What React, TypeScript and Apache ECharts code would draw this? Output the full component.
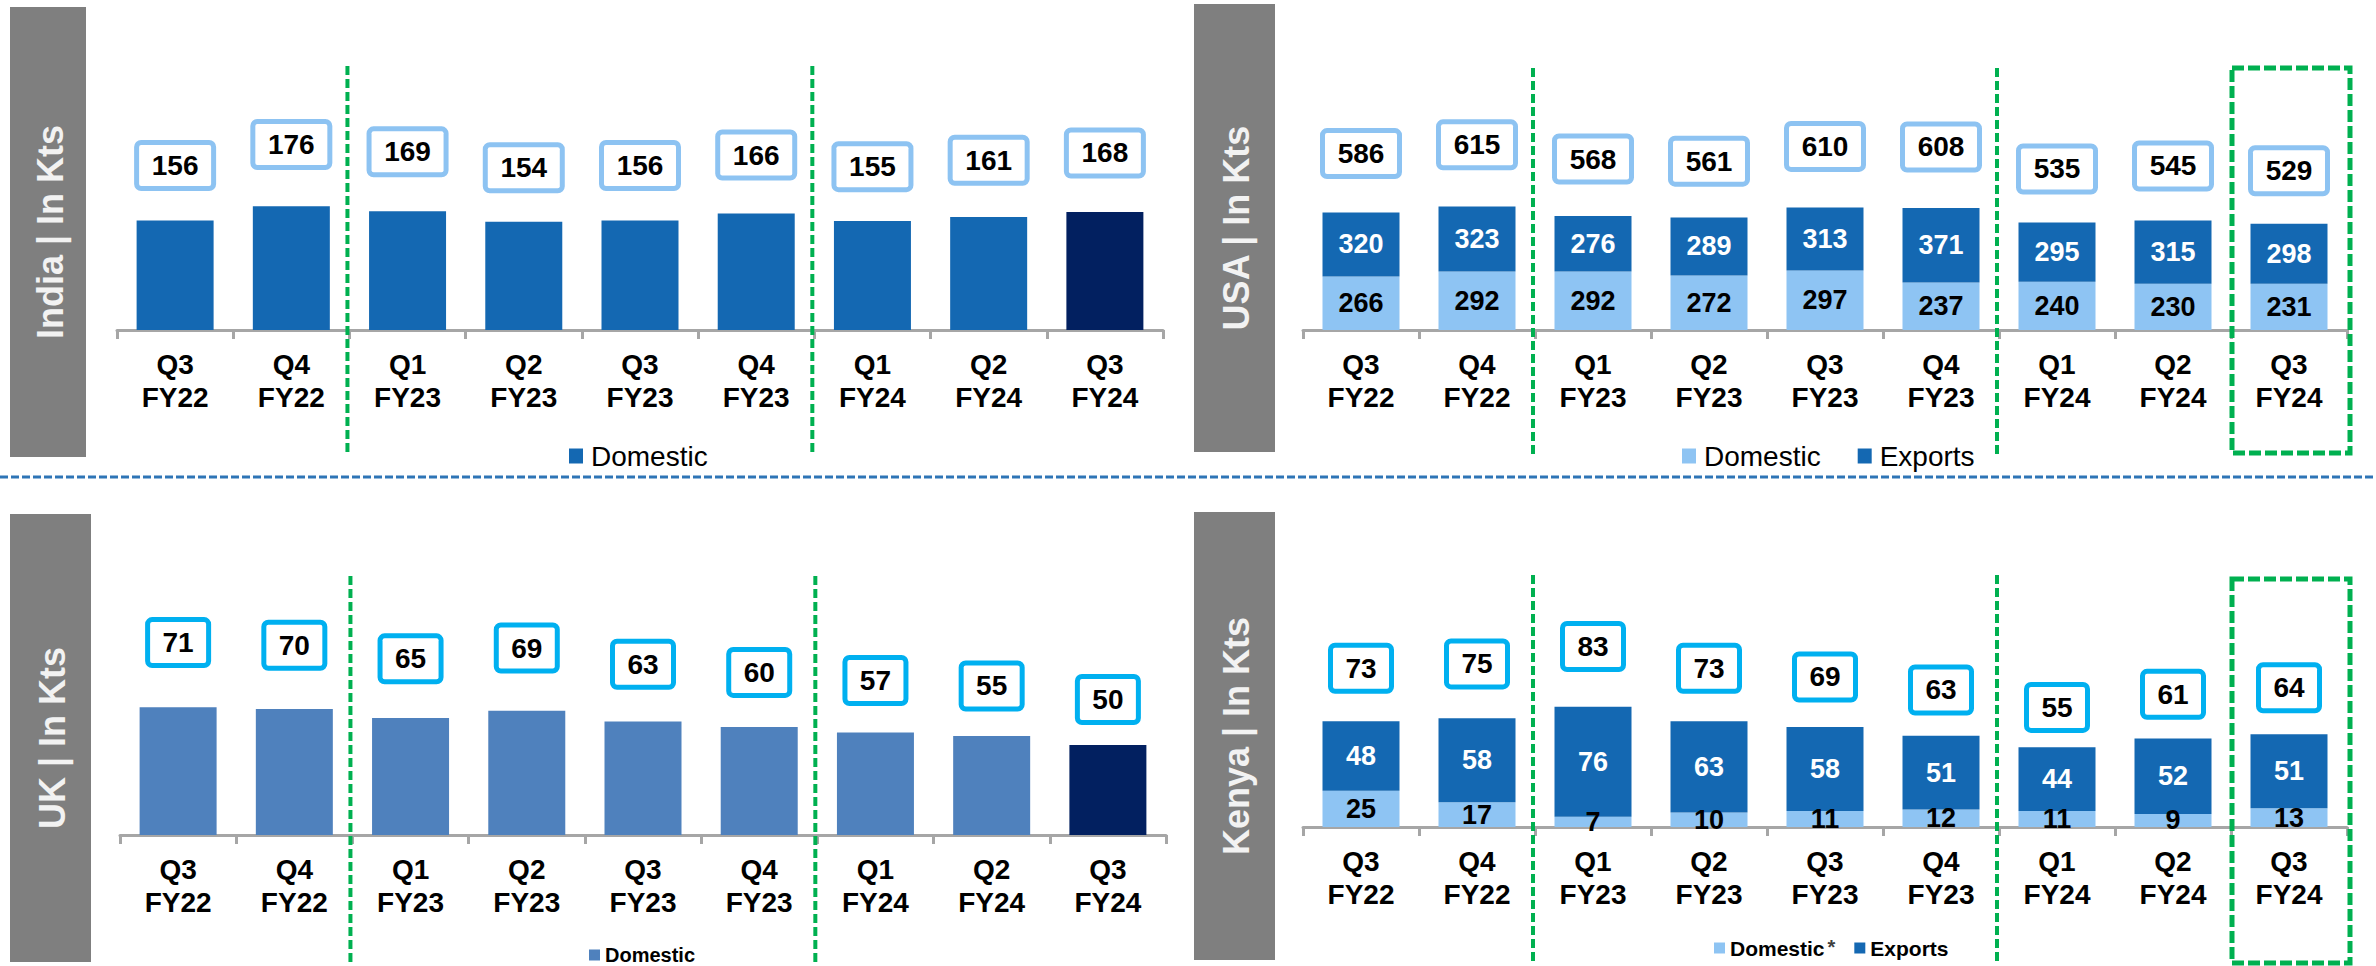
import React, { useEffect, useRef } from "react";
import * as echarts from "echarts";

// ---------- data ----------
const categories = ["Q3\nFY22", "Q4\nFY22", "Q1\nFY23", "Q2\nFY23", "Q3\nFY23", "Q4\nFY23", "Q1\nFY24", "Q2\nFY24", "Q3\nFY24"];
const panelTitles = ["India | In Kts", "USA | In Kts", "UK | In Kts", "Kenya | In Kts"];

const indiaDomestic = [156, 176, 169, 154, 156, 166, 155, 161, 168];

const usaDomestic = [266, 292, 292, 272, 297, 237, 240, 230, 231];
const usaExports = [320, 323, 276, 289, 313, 371, 295, 315, 298];
const usaTotal = [586, 615, 568, 561, 610, 608, 535, 545, 529];

const ukDomestic = [71, 70, 65, 69, 63, 60, 57, 55, 50];

const kenyaDomestic = [25, 17, 7, 10, 11, 12, 11, 9, 13];
const kenyaExports = [48, 58, 76, 63, 58, 51, 44, 52, 51];
const kenyaTotal = [73, 75, 83, 73, 69, 63, 55, 61, 64];

// ---------- styles ----------
const FONT = '"Liberation Sans", Arial, Helvetica, sans-serif';
const C_DARK = "#1468B2";
const C_LIGHT = "#8EC4F3";
const C_UK = "#4F81BD";
const C_NAVY = "#022060";
const C_GREEN = "#00B050";
const C_BOX_LIGHT = "#8DC3F2";
const C_BOX_CYAN = "#00B0F0";
const C_AXIS = "#A6A6A6";

const grids = [
  { left: 117, top: 49, width: 1046, height: 281 },
  { left: 1303, top: 49, width: 1044, height: 281 },
  { left: 120, top: 554, width: 1046, height: 281 },
  { left: 1303, top: 546, width: 1044, height: 281 },
];
const barMax = [400, 1400, 156.1, 193.8];
const labelMax = [266.6, 933.5, 103.7, 129.2];

const highlightLast = (vals: number[], color: string) =>
  vals.map((v, i) => (i === vals.length - 1 ? { value: v, itemStyle: { color } } : v));

const boxLabel = (borderColor: string, w: number) => ({
  show: true,
  position: "inside",
  formatter: (p: any) => String(p.value),
  backgroundColor: "#fff",
  borderColor,
  borderWidth: 5,
  borderRadius: 2,
  width: w,
  height: 41,
  lineHeight: 41,
  align: "center",
  verticalAlign: "middle",
  fontSize: 28,
  fontWeight: "bold",
  color: "#000",
  opacity: 1,
  textBorderWidth: 0,
  textBorderColor: "transparent",
  textShadowBlur: 0,
  fontFamily: FONT,
});

const labelSeries = (idx: number, data: number[], borderColor: string, w: number) => ({
  type: "scatter",
  name: "total" + idx,
  xAxisIndex: idx,
  yAxisIndex: idx * 2 + 1,
  data,
  symbolSize: 1,
  itemStyle: { color: "rgba(0,0,0,0)", opacity: 1 },
  label: boxLabel(borderColor, w),
  emphasis: { disabled: true },
  z: 10,
  silent: true,
});

const innerLabel = (color: string) => ({
  show: true,
  position: "inside",
  color,
  fontSize: 27,
  fontWeight: "bold",
  textBorderWidth: 0,
  textBorderColor: "transparent",
  fontFamily: FONT,
});

function buildOption() {
  const xAxis = grids.map((_, i) => ({
    type: "category",
    gridIndex: i,
    data: categories,
    boundaryGap: true,
    axisLine: { show: true, lineStyle: { color: C_AXIS, width: 3 } },
    axisTick: { show: true, interval: 0, length: 9, lineStyle: { color: C_AXIS, width: 3 } },
    axisLabel: {
      interval: 0,
      margin: 18,
      fontSize: 28,
      fontWeight: "bold",
      lineHeight: 33,
      color: "#000",
      fontFamily: FONT,
    },
  }));
  const yAxis: any[] = [];
  grids.forEach((_, i) => {
    yAxis.push({ type: "value", gridIndex: i, min: 0, max: barMax[i], show: false, splitLine: { show: false } });
    yAxis.push({ type: "value", gridIndex: i, min: 0, max: labelMax[i], show: false, splitLine: { show: false } });
  });

  const series: any[] = [
    // India
    {
      type: "bar",
      name: "India Domestic",
      xAxisIndex: 0,
      yAxisIndex: 0,
      barWidth: 77,
      data: highlightLast(indiaDomestic, C_NAVY),
      itemStyle: { color: C_DARK },
    },
    labelSeries(0, indiaDomestic, C_BOX_LIGHT, 72),
    // USA
    {
      type: "bar",
      name: "USA Domestic",
      xAxisIndex: 1,
      yAxisIndex: 2,
      stack: "usa",
      barWidth: 77,
      data: usaDomestic,
      itemStyle: { color: C_LIGHT },
      label: innerLabel("#000"),
    },
    {
      type: "bar",
      name: "USA Exports",
      xAxisIndex: 1,
      yAxisIndex: 2,
      stack: "usa",
      barWidth: 77,
      data: usaExports,
      itemStyle: { color: C_DARK },
      label: innerLabel("#fff"),
    },
    labelSeries(1, usaTotal, C_BOX_LIGHT, 72),
    // UK
    {
      type: "bar",
      name: "UK Domestic",
      xAxisIndex: 2,
      yAxisIndex: 4,
      barWidth: 77,
      data: highlightLast(ukDomestic, C_NAVY),
      itemStyle: { color: C_UK },
    },
    labelSeries(2, ukDomestic, C_BOX_CYAN, 56),
    // Kenya
    {
      type: "bar",
      name: "Kenya Domestic",
      xAxisIndex: 3,
      yAxisIndex: 6,
      stack: "kenya",
      barWidth: 77,
      data: kenyaDomestic,
      itemStyle: { color: C_LIGHT },
      label: innerLabel("#000"),
    },
    {
      type: "bar",
      name: "Kenya Exports",
      xAxisIndex: 3,
      yAxisIndex: 6,
      stack: "kenya",
      barWidth: 77,
      data: kenyaExports,
      itemStyle: { color: C_DARK },
      label: innerLabel("#fff"),
    },
    labelSeries(3, kenyaTotal, C_BOX_CYAN, 56),
  ];

  const legendBase = {
    orient: "horizontal",
    selectedMode: false,
    padding: 0,
    icon: "rect",
  };
  const legend = [
    {
      ...legendBase,
      data: ["India Domestic"],
      left: 569,
      top: 441,
      itemWidth: 14,
      itemHeight: 15,
      formatter: (n: string) => n.split(" ")[1],
      textStyle: { fontSize: 28, lineHeight: 30, color: "#000", fontFamily: FONT, padding: [0, 0, 0, 3] },
    },
    {
      ...legendBase,
      data: ["USA Domestic", "USA Exports"],
      left: 1682,
      top: 441,
      itemWidth: 14,
      itemHeight: 15,
      itemGap: 37,
      formatter: (n: string) => n.split(" ")[1],
      textStyle: { fontSize: 28, lineHeight: 30, color: "#000", fontFamily: FONT, padding: [0, 0, 0, 3] },
    },
    {
      ...legendBase,
      data: ["UK Domestic"],
      left: 589,
      top: 945,
      itemWidth: 11,
      itemHeight: 11,
      formatter: (n: string) => n.split(" ")[1],
      textStyle: { fontSize: 20, fontWeight: "bold", lineHeight: 20, color: "#000", fontFamily: FONT },
    },
    {
      ...legendBase,
      data: ["Kenya Domestic", "Kenya Exports"],
      left: 1714,
      top: 937,
      itemWidth: 11,
      itemHeight: 11,
      itemGap: 19,
      formatter: (n: string) => (n === "Kenya Domestic" ? "Domestic{sup|*}" : n.split(" ")[1]),
      textStyle: {
        fontSize: 21,
        fontWeight: "bold",
        lineHeight: 22,
        color: "#000",
        fontFamily: FONT,
        rich: {
          sup: { fontSize: 20, color: "#404040", verticalAlign: "top", lineHeight: 14, padding: [0, 0, 8, 3], fontFamily: FONT },
        },
      },
    },
  ];

  // ---------- decorations ----------
  const panels = [
    { x: 10, y: 7, w: 76, h: 450 },
    { x: 1194, y: 4, w: 81, h: 448 },
    { x: 10, y: 514, w: 81, h: 448 },
    { x: 1194, y: 512, w: 81, h: 448 },
  ];
  const lineY = [
    [66, 452],
    [68, 455],
    [576, 964],
    [575, 962],
  ];
  const graphic: any[] = [];
  panels.forEach((p, i) => {
    graphic.push({ type: "rect", shape: { x: p.x, y: p.y, width: p.w, height: p.h }, style: { fill: "#7F7F7F" }, silent: true });
    graphic.push({
      type: "text",
      x: p.x + p.w / 2 + 2,
      y: p.y + p.h / 2,
      rotation: Math.PI / 2,
      style: {
        text: panelTitles[i],
        fill: "#F2F2F2",
        font: `bold 36px ${FONT}`,
        align: "center",
        verticalAlign: "middle",
        textAlign: "center",
        textVerticalAlign: "middle",
      },
      silent: true,
    });
  });
  grids.forEach((g, i) => {
    const cw = g.width / categories.length;
    [2, 6].forEach((k) => {
      const x = g.left + k * cw - 2;
      graphic.push({
        type: "line",
        shape: { x1: x, y1: lineY[i][0], x2: x, y2: lineY[i][1] },
        style: { stroke: C_GREEN, lineWidth: 4, lineDash: [9, 4] },
        silent: true,
        z: 5,
      });
    });
    if (i === 1 || i === 3) {
      const x1 = g.left + 8 * cw + 1;
      const x2 = g.left + g.width + 3;
      const y1 = i === 1 ? 68 : 579;
      const y2 = i === 1 ? 453 : 963;
      graphic.push({
        type: "rect",
        shape: { x: x1, y: y1, width: x2 - x1, height: y2 - y1 },
        style: { fill: "transparent", stroke: C_GREEN, lineWidth: 5, lineDash: [12, 4] },
        silent: true,
        z: 5,
      });
    }
  });
  graphic.push({
    type: "line",
    shape: { x1: 0, y1: 477, x2: 2376, y2: 477 },
    style: { stroke: "#2E75B6", lineWidth: 3, lineDash: [8, 3] },
    silent: true,
  });

  return {
    animation: false,
    backgroundColor: "#ffffff",
    textStyle: { fontFamily: FONT },
    grid: grids.map((g) => ({ ...g, containLabel: false, outerBoundsMode: "none" })),
    xAxis,
    yAxis,
    legend,
    series,
    graphic,
  };
}

export default function App() {
  const ref = useRef<HTMLDivElement>(null);
  useEffect(() => {
    if (!ref.current) return;
    const chart = echarts.init(ref.current, undefined, { renderer: "svg" });
    chart.setOption(buildOption() as any);
    return () => chart.dispose();
  }, []);
  return (
    <div
      ref={ref}
      style={{ position: "absolute", left: 0, top: 0, width: 2376, height: 966, background: "#fff" }}
    />
  );
}
